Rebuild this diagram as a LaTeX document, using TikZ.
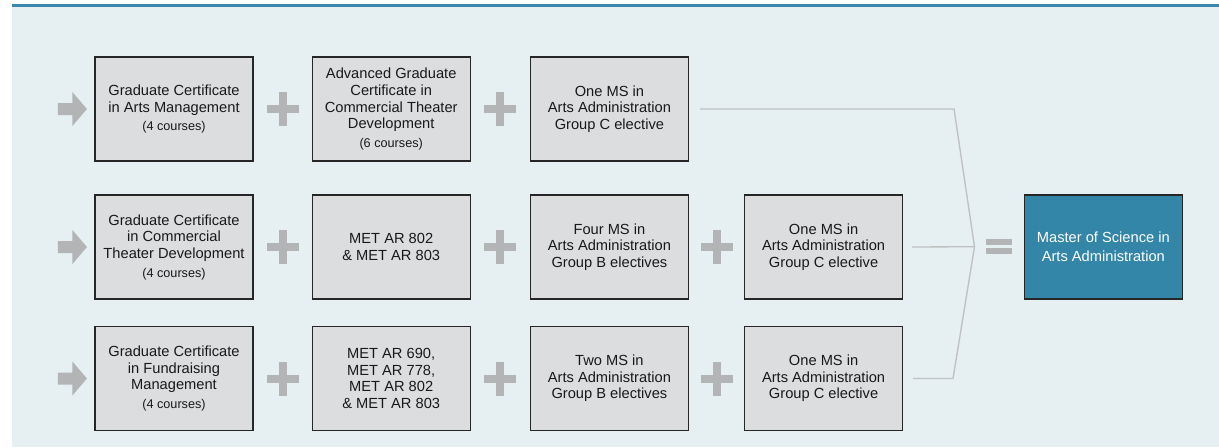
\documentclass[tikz,border=0pt]{standalone}
\usepackage{fontspec}
\setmainfont{Liberation Sans}
\usepackage{tikz}
\usetikzlibrary{arrows,positioning,calc}
\definecolor{panel}{HTML}{E6EFF2}
\definecolor{rule}{HTML}{3A89AC}
\definecolor{boxgray}{HTML}{DCDDDF}
\definecolor{markgray}{HTML}{B2B4B6}
\definecolor{linegray}{HTML}{BEC0C2}
\definecolor{goalblue}{HTML}{3386A8}
\tikzstyle{course}=[draw=black!85,line width=0.9pt,fill=boxgray,minimum width=118.5pt,minimum height=78pt,inner sep=2pt,align=center,text=black!90,font=\fontsize{11}{12.5}\selectfont]
\tikzstyle{goal}=[course,fill=goalblue,text=white,font=\fontsize{11}{14.5}\selectfont]
\tikzstyle{link}=[draw=linegray,line width=1pt]
\newcommand{\crs}[1]{\\[1.5pt]{\fontsize{9.5}{12.5}\selectfont #1}}
\newcommand{\addmark}[2]{\fill[markgray] ($($(#1.east)!0.5!(#2.west)$)+(-16,-4)$) rectangle ($($(#1.east)!0.5!(#2.west)$)+(16,4)$);
  \fill[markgray] ($($(#1.east)!0.5!(#2.west)$)+(-4,-17)$) rectangle ($($(#1.east)!0.5!(#2.west)$)+(4,17)$);}
\newcommand{\startmark}[1]{\fill[markgray] ($(#1.west)+(-36.5,-6)$) -- ($(#1.west)+(-22,-6)$) -- ($(#1.west)+(-22,-17)$) -- ($(#1.west)+(-7.5,0)$) -- ($(#1.west)+(-22,17)$) -- ($(#1.west)+(-22,6)$) -- ($(#1.west)+(-36.5,6)$) -- cycle;}

\begin{document}
\begin{tikzpicture}[x=0.75pt,y=-0.75pt,node distance=43.5pt]
\useasboundingbox (0,0) rectangle (1219,447);
\fill[panel] (12,7) rectangle (1219,447);
\fill[rule] (12,4.3) rectangle (1219,7.3);

% first row
\node [course] (b11) at (174,109) {Graduate Certificate\\in Arts Management\crs{(4 courses)}};
\node [course,right=of b11] (b12) {Advanced Graduate\\Certificate in\\Commercial Theater\\Development\crs{(6 courses)}};
\node [course,right=44.25pt of b12] (b13) {One MS in\\Arts Administration\\Group C elective};

% second row
\node [course] (b21) at (174,247) {Graduate Certificate\\in Commercial\\Theater Development\crs{(4 courses)}};
\node [course,right=of b21] (b22) {MET AR 802\\\& MET AR 803};
\node [course,right=44.25pt of b22] (b23) {Four MS in\\Arts Administration\\Group B electives};
\node [course,right=41.25pt of b23] (b24) {One MS in\\Arts Administration\\Group C elective};

% third row
\node [course] (b31) at (174,378.5) {Graduate Certificate\\in Fundraising\\Management\crs{(4 courses)}};
\node [course,right=of b31] (b32) {MET AR 690,\\MET AR 778,\\MET AR 802\\\& MET AR 803};
\node [course,right=44.25pt of b32] (b33) {Two MS in\\Arts Administration\\Group B electives};
\node [course,right=41.25pt of b33] (b34) {One MS in\\Arts Administration\\Group C elective};

\node [goal,right=90.4pt of b24] (ms) {Master of Science in\\Arts Administration};

\coordinate (bend) at (943,0);
\coordinate (apex) at (974.5,246.7);

\startmark{b11}
\startmark{b21}
\startmark{b31}
\addmark{b11}{b12}
\addmark{b12}{b13}
\addmark{b21}{b22}
\addmark{b22}{b23}
\addmark{b23}{b24}
\addmark{b31}{b32}
\addmark{b32}{b33}
\addmark{b33}{b34}

\draw [link] ([xshift=8.25pt]b13.east) -- ([xshift=8.25pt]b13.east -| bend) -- (apex);
\draw [link] ([xshift=6.5pt]b24.east) -- (apex);
\draw [link] ([xshift=7.5pt]b34.east) -- ([xshift=7.5pt]b34.east -| bend) -- (apex);

% equals sign
\fill[markgray] ($($(apex)!0.5!(ms.west)$)+(-13.25,-7.5)$) rectangle ($($(apex)!0.5!(ms.west)$)+(13.25,-1.5)$);
\fill[markgray] ($($(apex)!0.5!(ms.west)$)+(-13.25,1.5)$) rectangle ($($(apex)!0.5!(ms.west)$)+(13.25,7.5)$);
\end{tikzpicture}
\end{document}
